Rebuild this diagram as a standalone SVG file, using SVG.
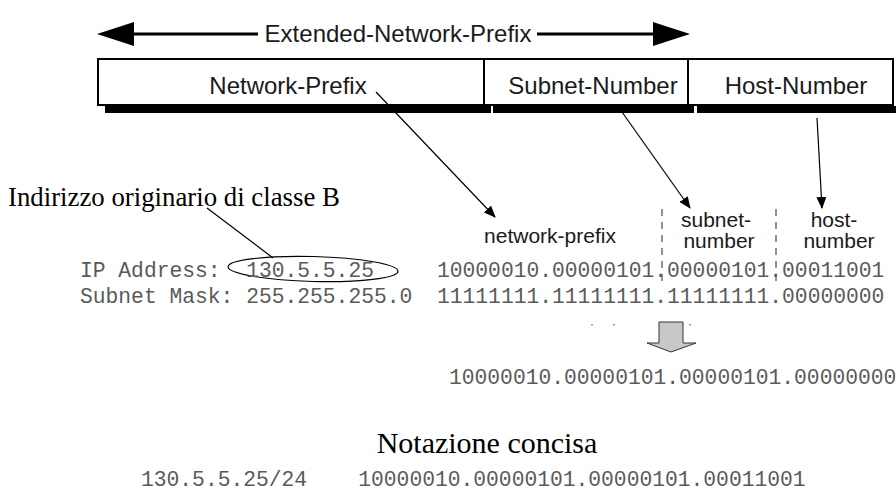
<svg xmlns="http://www.w3.org/2000/svg" width="896" height="498" viewBox="0 0 896 498">
<style>
.sans{font-family:"Liberation Sans",Arial,sans-serif;fill:#1a1a1a}
.big{font-size:24px}
.lbl{font-size:21px}
.mono{font-family:"Liberation Mono","Courier New",monospace;font-size:21.3px;fill:#5a5a5a}
.serif{font-family:"Liberation Serif","Times New Roman",serif;fill:#000}
.thin{stroke:#000;stroke-width:1.2;fill:none}
.dash{stroke:#777;stroke-width:1.6;stroke-dasharray:7 6;fill:none}
</style>
<defs>
<marker id="ah" viewBox="0 0 12 10" refX="11" refY="5" markerWidth="12" markerHeight="10" markerUnits="userSpaceOnUse" orient="auto">
<path d="M0,0 L12,5 L0,10 Z" fill="#000"/>
</marker>
</defs>
<rect width="896" height="498" fill="#fff"/>

<g id="extended-prefix">
<line x1="130" y1="34" x2="258" y2="34" stroke="#000" stroke-width="3"/>
<line x1="537" y1="34" x2="660" y2="34" stroke="#000" stroke-width="3"/>
<path d="M97,34 L134,22 L134,46 Z" fill="#000"/>
<path d="M690,34 L653,22 L653,46 Z" fill="#000"/>
<text class="sans big" x="398" y="42" text-anchor="middle">Extended-Network-Prefix</text>
</g>

<g id="address-box">
<rect x="105" y="106" width="386" height="7" fill="#000"/>
<rect x="493" y="106" width="201" height="7" fill="#000"/>
<rect x="697" y="106" width="199" height="7" fill="#000"/>
<rect x="98" y="59" width="795" height="46" fill="#fff" stroke="#000" stroke-width="2"/>
<line x1="484" y1="59" x2="484" y2="105" stroke="#000" stroke-width="2"/>
<line x1="688" y1="59" x2="688" y2="105" stroke="#000" stroke-width="2"/>
</g>
<g id="network-prefix-field"><text class="sans big" x="288" y="94" text-anchor="middle">Network-Prefix</text></g>
<g id="subnet-number-field"><text class="sans big" x="593" y="94" text-anchor="middle">Subnet-Number</text></g>
<g id="host-number-field"><text class="sans big" x="796" y="94" text-anchor="middle">Host-Number</text></g>

<g id="connectors">
<line class="thin" x1="376" y1="92" x2="495" y2="217" marker-end="url(#ah)"/>
<line class="thin" x1="622" y1="112" x2="690" y2="208" marker-end="url(#ah)"/>
<line class="thin" x1="817" y1="118" x2="822" y2="208" marker-end="url(#ah)"/>
<line class="thin" x1="207" y1="208" x2="273" y2="258"/>
<line class="dash" x1="662" y1="209" x2="662" y2="281"/>
<line class="dash" x1="776" y1="209" x2="776" y2="281"/>
</g>

<g id="labels">
<text class="sans lbl" x="550" y="243" text-anchor="middle">network-prefix</text>
<text class="sans lbl" x="716" y="227" text-anchor="middle">subnet-</text>
<text class="sans lbl" x="719" y="248" text-anchor="middle">number</text>
<text class="sans lbl" x="834" y="227" text-anchor="middle">host-</text>
<text class="sans lbl" x="839" y="248" text-anchor="middle">number</text>
</g>

<g id="class-b-note">
<text class="serif" x="8" y="206" font-size="26.8">Indirizzo originario di classe B</text>
<ellipse cx="313" cy="269" rx="85" ry="12.5" fill="none" stroke="#000" stroke-width="1.2" transform="rotate(1.5 313 269)"/>
</g>

<g id="address-rows">
<text class="mono" x="80" y="277" xml:space="preserve">IP Address:  130.5.5.25</text>
<text class="mono" x="80" y="303" xml:space="preserve">Subnet Mask: 255.255.255.0</text>
<text class="mono" x="437" y="277">10000010.00000101.00000101.00011001</text>
<text class="mono" x="437" y="303">11111111.11111111.11111111.00000000</text>
</g>

<g id="and-arrow">
<rect x="591" y="324" width="2" height="1.5" fill="#999"/>
<rect x="613" y="324" width="2" height="1.5" fill="#999"/>
<rect x="689" y="324" width="2" height="1.5" fill="#999"/>
<path d="M659,322 L683,322 L683,343 L696,343 L671,352 L647,343 L659,343 Z" fill="#c8c8c8" stroke="#333" stroke-width="1"/>
</g>

<g id="result">
<text class="mono" x="449" y="384">10000010.00000101.00000101.00000000</text>
</g>

<g id="concise">
<text class="serif" x="487" y="453" font-size="30" text-anchor="middle">Notazione concisa</text>
<text class="mono" x="141" y="486" xml:space="preserve">130.5.5.25/24    10000010.00000101.00000101.00011001</text>
</g>
</svg>
